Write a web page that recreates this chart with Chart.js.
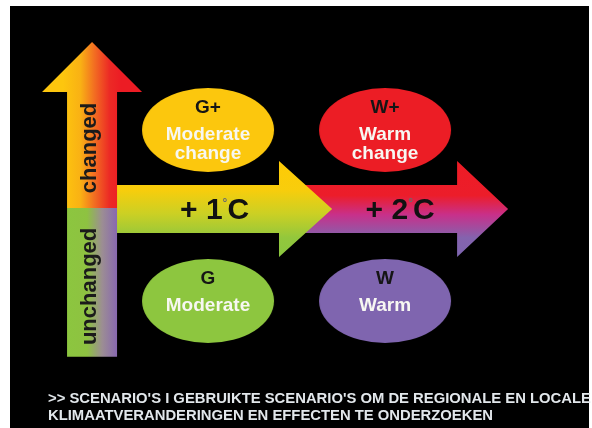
<!DOCTYPE html>
<html>
<head>
<meta charset="utf-8">
<title>Klimaatscenario's</title>
<script src="https://cdn.jsdelivr.net/npm/chart.js@4.4.1/dist/chart.umd.min.js"></script>
<style>
  html, body { margin: 0; padding: 0; background: #fff; }
  canvas { display: block; }
</style>
</head>
<body>
<canvas id="scenarioChart" width="592" height="428"></canvas>
<script>
// Gegevens van de scenario's
const scenarios = ['G+', 'W+', 'G', 'W'];
const scenarioText = [['Moderate', 'change'], ['Warm', 'change'], ['Moderate'], ['Warm']];
const warming = [1, 2, 1, 2];          // graden opwarming
const circulation = [1, 1, 0, 0];      // 1 = changed, 0 = unchanged
const scenarioColors = ['#FCC70D', '#EC1D25', '#8DC63F', '#7F65AF'];
const warmingLabels = ['+ 1', '+ 2'];
const circulationLabels = ['unchanged', 'changed'];
const captionLines = [
  ">> SCENARIO'S I GEBRUIKTE SCENARIO'S OM DE REGIONALE EN LOCALE",
  'KLIMAATVERANDERINGEN EN EFFECTEN TE ONDERZOEKEN'
];

const FONT = '"Liberation Sans", Arial, Helvetica, sans-serif';

// Ellips als afbeelding voor de punten
function makeEllipse(color) {
  const c = document.createElement('canvas');
  c.width = 134;
  c.height = 86;
  const g = c.getContext('2d');
  g.fillStyle = color;
  g.beginPath();
  g.ellipse(67, 43, 66, 42, 0, 0, Math.PI * 2);
  g.fill();
  return c;
}

function fillPoly(ctx, pts, style) {
  ctx.beginPath();
  ctx.moveTo(pts[0][0], pts[0][1]);
  for (let i = 1; i < pts.length; i++) ctx.lineTo(pts[i][0], pts[i][1]);
  ctx.closePath();
  ctx.fillStyle = style;
  ctx.fill();
}

// Achtergrond en pijlen
const arrowsPlugin = {
  id: 'arrows',
  beforeDraw(chart) {
    const ctx = chart.ctx;
    ctx.save();
    ctx.fillStyle = '#fff';
    ctx.fillRect(0, 0, chart.width, chart.height);
    ctx.fillStyle = '#000';
    ctx.fillRect(10, 6, 579, chart.height - 6);
    ctx.restore();
  },
  beforeDatasetsDraw(chart) {
    const ctx = chart.ctx;
    const x = chart.scales.x, y = chart.scales.y;
    const ax = x.getPixelForValue(0.345);
    const shaftW = 25, headW = 50;
    const yBottom = y.getPixelForValue(-0.327);
    const ySplit = y.getPixelForValue(0.544);
    const yHead = y.getPixelForValue(1.222);
    const yTip = y.getPixelForValue(1.515);
    const my = y.getPixelForValue(0.538);
    const shaftH = 24, headH = 48;

    ctx.save();

    // +2 pijl eerst, de +1 pijl ligt erover
    const ends = [
      { from: x.getPixelForValue(1.435), base: x.getPixelForValue(2.407), tip: x.getPixelForValue(2.695) },
      { from: ax + shaftW - 1, base: x.getPixelForValue(1.401), tip: x.getPixelForValue(1.701) }
    ];
    const grad2 = ctx.createLinearGradient(0, my - headH, 0, my + headH);
    grad2.addColorStop(0, '#EE1C25');
    grad2.addColorStop(0.36, '#EC1D2A');
    grad2.addColorStop(0.56, '#C8308A');
    grad2.addColorStop(0.8, '#8463AE');
    grad2.addColorStop(1, '#7E66B0');
    const grad1 = ctx.createLinearGradient(0, my - headH, 0, my + headH);
    grad1.addColorStop(0, '#FFCB05');
    grad1.addColorStop(0.3, '#F8CD0C');
    grad1.addColorStop(0.55, '#CBD024');
    grad1.addColorStop(0.8, '#93C73C');
    grad1.addColorStop(1, '#8AC640');
    const grads = [grad2, grad1];
    ends.forEach((a, i) => {
      fillPoly(ctx, [
        [a.from, my - shaftH], [a.base, my - shaftH], [a.base, my - headH],
        [a.tip, my], [a.base, my + headH], [a.base, my + shaftH], [a.from, my + shaftH]
      ], grads[i]);
    });

    // verticale pijl: changed (boven) en unchanged (onder)
    const gUp = ctx.createLinearGradient(ax - shaftW - 4, 0, ax + shaftW + 4, 0);
    gUp.addColorStop(0, '#FDC60E');
    gUp.addColorStop(0.3, '#F9B114');
    gUp.addColorStop(0.55, '#F26B22');
    gUp.addColorStop(0.8, '#EC2A25');
    gUp.addColorStop(1, '#EC1C24');
    fillPoly(ctx, [
      [ax - shaftW, ySplit], [ax - shaftW, yHead], [ax - headW, yHead], [ax, yTip],
      [ax + headW, yHead], [ax + shaftW, yHead], [ax + shaftW, ySplit]
    ], gUp);
    const gDown = ctx.createLinearGradient(ax - shaftW, 0, ax + shaftW, 0);
    gDown.addColorStop(0, '#8CC63F');
    gDown.addColorStop(0.4, '#8EC241');
    gDown.addColorStop(0.7, '#9C8E93');
    gDown.addColorStop(1, '#8868B0');
    fillPoly(ctx, [
      [ax - shaftW, ySplit], [ax + shaftW, ySplit], [ax + shaftW, yBottom], [ax - shaftW, yBottom]
    ], gDown);

    // teksten in de verticale pijl
    ctx.fillStyle = '#1B1B1B';
    ctx.font = 'bold 22px ' + FONT;
    ctx.textAlign = 'center';
    ctx.textBaseline = 'alphabetic';
    const mids = [(ySplit + yBottom) / 2 + 4, (yHead + ySplit) / 2 - 2];
    circulationLabels.forEach((lab, i) => {
      ctx.save();
      ctx.translate(ax + 4, mids[i]);
      ctx.rotate(-Math.PI / 2);
      ctx.fillText(lab, 0, 0);
      ctx.restore();
    });

    // +1 °C en +2 °C
    const textX = [x.getPixelForValue(1.037), x.getPixelForValue(2.085)];
    warmingLabels.forEach((lab, i) => {
      ctx.font = 'bold 30px ' + FONT;
      const wMain = ctx.measureText(lab).width;
      const wC = ctx.measureText('C').width;
      ctx.font = 'bold 12px ' + FONT;
      const wDeg = ctx.measureText('°').width;
      let sx = textX[i] - (wMain + wDeg + wC) / 2;
      const base = my + 10;
      ctx.textAlign = 'left';
      ctx.fillStyle = '#111';
      ctx.font = 'bold 30px ' + FONT;
      ctx.fillText(lab, sx, base);
      ctx.font = 'bold 12px ' + FONT;
      ctx.fillStyle = '#6B6B6B';
      ctx.fillText('°', sx + wMain, base - 12);
      ctx.font = 'bold 30px ' + FONT;
      ctx.fillStyle = '#111';
      ctx.fillText('C', sx + wMain + wDeg, base);
    });

    ctx.restore();
  },
  afterDatasetsDraw(chart) {
    const ctx = chart.ctx;
    const meta = chart.getDatasetMeta(0);
    ctx.save();
    ctx.textAlign = 'center';
    ctx.textBaseline = 'alphabetic';
    meta.data.forEach((pt, i) => {
      ctx.font = 'bold 19px ' + FONT;
      ctx.fillStyle = '#151515';
      ctx.fillText(scenarios[i], pt.x, pt.y - 17);
      ctx.fillStyle = '#F7F7F2';
      scenarioText[i].forEach((line, j) => {
        ctx.fillText(line, pt.x, pt.y + 10 + j * 19);
      });
    });

    // onderschrift
    ctx.font = 'bold 14px ' + FONT;
    ctx.fillStyle = '#E2E7EB';
    ctx.textAlign = 'left';
    const s = 445 / ctx.measureText(captionLines[1]).width;
    captionLines.forEach((line, i) => {
      ctx.save();
      ctx.translate(48, 403 + i * 17);
      ctx.scale(s, 1);
      ctx.fillText(line, 0, 0);
      ctx.restore();
    });
    ctx.restore();
  }
};

const points = scenarios.map((s, i) => ({ x: warming[i], y: circulation[i] }));

new Chart(document.getElementById('scenarioChart'), {
  type: 'scatter',
  data: {
    datasets: [{
      label: 'Scenario',
      data: points,
      pointStyle: scenarioColors.map(makeEllipse),
      pointRadius: 10,
      pointHoverRadius: 10
    }]
  },
  options: {
    responsive: false,
    animation: false,
    events: [],
    layout: { padding: 0, autoPadding: false },
    plugins: { legend: { display: false }, tooltip: { enabled: false } },
    scales: {
      x: { type: 'linear', display: false, min: -0.175, max: 3.169 },
      y: { type: 'linear', display: false, min: -0.743, max: 1.76 }
    }
  },
  plugins: [arrowsPlugin]
});
</script>
</body>
</html>
